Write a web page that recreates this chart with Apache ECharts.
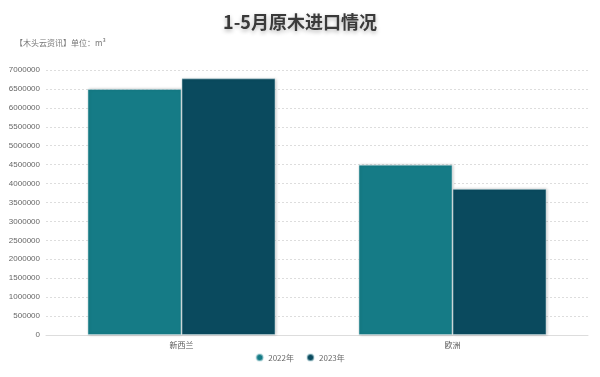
<!DOCTYPE html>
<html><head><meta charset="utf-8">
<script src="https://cdn.jsdelivr.net/npm/echarts@6/dist/echarts.min.js"></script>
<style>html,body{margin:0;padding:0;background:#fff}#c{width:600px;height:377px}</style>
</head><body><div id="c"></div>
<script>
const categories = ['新西兰', '欧洲'];
const seriesNames = ['2022年', '2023年'];
const values2022 = [6500000, 4500000];
const values2023 = [6780000, 3860000];
const colors = ['#157b86', '#0a4a5e'];

const chart = echarts.init(document.getElementById('c'));
chart.setOption({
  animation: false,
  title: [{
    text: '1-5月原木进口情况',
    left: 'center', top: 8,
    textStyle: { fontSize: 18, fontWeight: 'bold', color: '#3a3a3a', fontFamily: 'Noto Sans CJK SC',
      textShadowColor: 'rgba(0,0,0,0.3)', textShadowBlur: 4, textShadowOffsetY: 2 }
  }, {
    text: '【木头云资讯】单位：m³',
    left: 10, top: 34,
    textStyle: { fontSize: 8, fontWeight: 'normal', color: '#777', fontFamily: 'Noto Sans CJK SC' }
  }],
  legend: {
    bottom: 10, left: 'center', icon: 'circle', itemWidth: 7, itemHeight: 7, itemGap: 12,
    textStyle: { fontSize: 8, color: '#666', fontFamily: 'Noto Sans CJK SC' },
    data: seriesNames
  },
  grid: { left: 46, right: 12, top: 70, bottom: 42 },
  xAxis: {
    type: 'category', data: categories,
    axisLine: { lineStyle: { color: '#ddd' } },
    axisTick: { show: false },
    axisLabel: { fontSize: 8, color: '#555', margin: 6, fontFamily: 'Noto Sans CJK SC' }
  },
  yAxis: {
    type: 'value', min: 0, max: 7000000, interval: 500000,
    axisLine: { show: false }, axisTick: { show: false },
    axisLabel: { fontSize: 8, color: '#666', margin: 6, formatter: v => String(v) },
    splitLine: { lineStyle: { color: '#ddd', type: [2, 2] } }
  },
  series: [{
    name: seriesNames[0], type: 'bar', data: values2022, barWidth: 94, barGap: '0%',
    itemStyle: { color: colors[0], borderColor: 'rgba(200,225,230,0.5)', borderWidth: 1,
      shadowColor: 'rgba(0,0,0,0.2)', shadowBlur: 3, shadowOffsetX: 1 }
  }, {
    name: seriesNames[1], type: 'bar', data: values2023, barWidth: 94,
    itemStyle: { color: colors[1], borderColor: 'rgba(200,225,230,0.5)', borderWidth: 1,
      shadowColor: 'rgba(0,0,0,0.2)', shadowBlur: 3, shadowOffsetX: 1 }
  }]
});
</script></body></html>
